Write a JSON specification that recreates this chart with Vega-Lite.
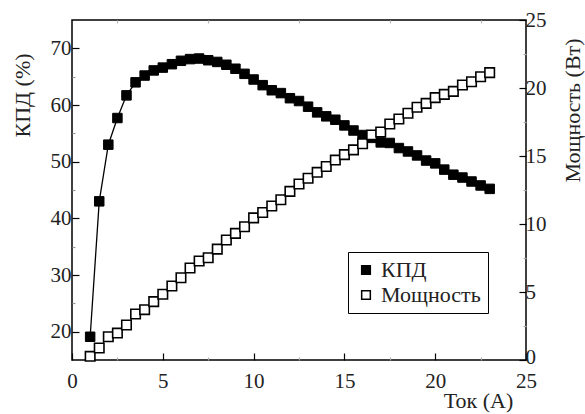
{
  "$schema": "https://vega.github.io/schema/vega-lite/v6.json",
  "width": 454,
  "height": 340,
  "autosize": {"type": "none"},
  "padding": {"left": 72, "top": 20, "right": 59, "bottom": 54},
  "background": "white",
  "config": {
    "font": "Liberation Serif",
    "view": {"stroke": "black", "strokeWidth": 1.5},
    "legend": {"labelFont": "Liberation Serif"},
    "axis": {
      "domain": false,
      "grid": false,
      "labelFont": "Liberation Serif",
      "titleFont": "Liberation Serif",
      "labelFontSize": 21,
      "titleFontSize": 22,
      "titleFontWeight": "normal",
      "labelColor": "#222",
      "titleColor": "#222",
      "tickColor": "black",
      "tickWidth": 1.2
    }
  },
  "data": {
    "values": [
      {"I": 1, "s": "КПД", "v": 19.1}, {"I": 1.5, "s": "КПД", "v": 43.0}, {"I": 2, "s": "КПД", "v": 53.0},
      {"I": 2.5, "s": "КПД", "v": 57.7}, {"I": 3, "s": "КПД", "v": 61.7}, {"I": 3.5, "s": "КПД", "v": 64.0},
      {"I": 4, "s": "КПД", "v": 65.2}, {"I": 4.5, "s": "КПД", "v": 66.1}, {"I": 5, "s": "КПД", "v": 66.6},
      {"I": 5.5, "s": "КПД", "v": 67.2}, {"I": 6, "s": "КПД", "v": 67.8}, {"I": 6.5, "s": "КПД", "v": 68.1},
      {"I": 7, "s": "КПД", "v": 68.2}, {"I": 7.5, "s": "КПД", "v": 67.9}, {"I": 8, "s": "КПД", "v": 67.6},
      {"I": 8.5, "s": "КПД", "v": 67.1}, {"I": 9, "s": "КПД", "v": 66.4}, {"I": 9.5, "s": "КПД", "v": 65.5},
      {"I": 10, "s": "КПД", "v": 64.5}, {"I": 10.5, "s": "КПД", "v": 63.5}, {"I": 11, "s": "КПД", "v": 62.6},
      {"I": 11.5, "s": "КПД", "v": 62.1}, {"I": 12, "s": "КПД", "v": 61.2}, {"I": 12.5, "s": "КПД", "v": 60.7},
      {"I": 13, "s": "КПД", "v": 59.7}, {"I": 13.5, "s": "КПД", "v": 58.7}, {"I": 14, "s": "КПД", "v": 58.0},
      {"I": 14.5, "s": "КПД", "v": 57.4}, {"I": 15, "s": "КПД", "v": 56.4}, {"I": 15.5, "s": "КПД", "v": 55.5},
      {"I": 16, "s": "КПД", "v": 54.7}, {"I": 16.5, "s": "КПД", "v": 54.2}, {"I": 17, "s": "КПД", "v": 53.4},
      {"I": 17.5, "s": "КПД", "v": 53.3}, {"I": 18, "s": "КПД", "v": 52.4}, {"I": 18.5, "s": "КПД", "v": 51.8},
      {"I": 19, "s": "КПД", "v": 51.1}, {"I": 19.5, "s": "КПД", "v": 50.2}, {"I": 20, "s": "КПД", "v": 49.7},
      {"I": 20.5, "s": "КПД", "v": 48.6}, {"I": 21, "s": "КПД", "v": 47.7}, {"I": 21.5, "s": "КПД", "v": 47.2},
      {"I": 22, "s": "КПД", "v": 46.5}, {"I": 22.5, "s": "КПД", "v": 45.8}, {"I": 23, "s": "КПД", "v": 45.2},
      {"I": 1, "s": "Мощность", "v": 0.27}, {"I": 1.5, "s": "Мощность", "v": 0.88}, {"I": 2, "s": "Мощность", "v": 1.71},
      {"I": 2.5, "s": "Мощность", "v": 1.98}, {"I": 3, "s": "Мощность", "v": 2.57}, {"I": 3.5, "s": "Мощность", "v": 3.38},
      {"I": 4, "s": "Мощность", "v": 3.7}, {"I": 4.5, "s": "Мощность", "v": 4.29}, {"I": 5, "s": "Мощность", "v": 4.83},
      {"I": 5.5, "s": "Мощность", "v": 5.44}, {"I": 6, "s": "Мощность", "v": 6.05}, {"I": 6.5, "s": "Мощность", "v": 6.76},
      {"I": 7, "s": "Мощность", "v": 7.28}, {"I": 7.5, "s": "Мощность", "v": 7.52}, {"I": 8, "s": "Мощность", "v": 8.15},
      {"I": 8.5, "s": "Мощность", "v": 8.82}, {"I": 9, "s": "Мощность", "v": 9.31}, {"I": 9.5, "s": "Мощность", "v": 9.8},
      {"I": 10, "s": "Мощность", "v": 10.45}, {"I": 10.5, "s": "Мощность", "v": 10.85}, {"I": 11, "s": "Мощность", "v": 11.32},
      {"I": 11.5, "s": "Мощность", "v": 11.78}, {"I": 12, "s": "Мощность", "v": 12.4}, {"I": 12.5, "s": "Мощность", "v": 12.94},
      {"I": 13, "s": "Мощность", "v": 13.36}, {"I": 13.5, "s": "Мощность", "v": 13.8}, {"I": 14, "s": "Мощность", "v": 14.23},
      {"I": 14.5, "s": "Мощность", "v": 14.7}, {"I": 15, "s": "Мощность", "v": 15.1}, {"I": 15.5, "s": "Мощность", "v": 15.45},
      {"I": 16, "s": "Мощность", "v": 15.9}, {"I": 16.5, "s": "Мощность", "v": 16.55}, {"I": 17, "s": "Мощность", "v": 16.76},
      {"I": 17.5, "s": "Мощность", "v": 17.35}, {"I": 18, "s": "Мощность", "v": 17.72}, {"I": 18.5, "s": "Мощность", "v": 18.14},
      {"I": 19, "s": "Мощность", "v": 18.58}, {"I": 19.5, "s": "Мощность", "v": 18.87}, {"I": 20, "s": "Мощность", "v": 19.29},
      {"I": 20.5, "s": "Мощность", "v": 19.53}, {"I": 21, "s": "Мощность", "v": 19.75}, {"I": 21.5, "s": "Мощность", "v": 20.22},
      {"I": 22, "s": "Мощность", "v": 20.46}, {"I": 22.5, "s": "Мощность", "v": 20.83}, {"I": 23, "s": "Мощность", "v": 21.13}
    ]
  },
  "layer": [
    {
      "transform": [{"filter": "datum.s === 'КПД'"}],
      "encoding": {
        "x": {
          "field": "I", "type": "quantitative",
          "scale": {"domain": [0, 25], "nice": false},
          "axis": {
            "orient": "bottom",
            "title": "Ток (А)",
            "values": [0, 2.5, 5, 7.5, 10, 12.5, 15, 17.5, 20, 22.5, 25],
            "labelExpr": "datum.value % 5 === 0 ? datum.label : ''",
            "tickSize": {"condition": {"test": "datum.value % 5 === 0", "value": -7}, "value": -3},
            "tickColor": {"condition": {"test": "datum.value % 5 === 0", "value": "black"}, "value": "#aaa"},
            "labelPadding": 17,
            "labelFlush": false,
            "titleX": 406, "titleY": 40,
            "titleAlign": "center", "titleBaseline": "middle"
          }
        },
        "y": {
          "field": "v", "type": "quantitative",
          "scale": {"domain": [15, 75], "nice": false, "zero": false},
          "axis": {
            "orient": "left",
            "title": "КПД (%)",
            "values": [20, 25, 30, 35, 40, 45, 50, 55, 60, 65, 70],
            "labelExpr": "datum.value % 10 === 0 ? datum.label : ''",
            "tickSize": {"condition": {"test": "datum.value % 10 === 0", "value": -7}, "value": -3},
            "tickColor": {"condition": {"test": "datum.value % 10 === 0", "value": "black"}, "value": "#999"},
            "labelPadding": 8,
            "titleX": -50, "titleY": 75,
            "titleAngle": -90, "titleAlign": "center", "titleBaseline": "middle"
          }
        }
      },
      "layer": [
        {"mark": {"type": "line", "color": "black", "strokeWidth": 1.3}},
        {
          "mark": {"type": "point", "shape": "square", "size": 90, "filled": true, "stroke": "black", "strokeWidth": 1, "opacity": 1},
          "encoding": {
            "fill": {
              "field": "s", "type": "nominal",
              "scale": {"domain": ["КПД", "Мощность"], "range": ["black", "white"]},
              "legend": {
                "orient": "none", "legendX": 276, "legendY": 232,
                "title": null,
                "strokeColor": "black", "fillColor": "white",
                "padding": 7, "labelFontSize": 22, "labelFont": "Liberation Serif", "labelColor": "#222",
                "symbolType": "square", "symbolSize": 75, "symbolStrokeColor": "black", "symbolStrokeWidth": 1.5,
                "rowPadding": 3, "labelOffset": 4, "cornerRadius": 0
              }
            }
          }
        }
      ]
    },
    {
      "transform": [{"filter": "datum.s === 'Мощность'"}],
      "encoding": {
        "x": {
          "field": "I", "type": "quantitative",
          "scale": {"domain": [0, 25], "nice": false},
          "axis": {
            "orient": "top", "title": null, "labels": false,
            "values": [2.5, 7.5, 12.5, 17.5, 22.5],
            "tickSize": -3, "tickColor": "#bbb"
          }
        },
        "y": {
          "field": "v", "type": "quantitative",
          "scale": {"domain": [0, 25], "nice": false},
          "axis": {
            "orient": "right",
            "title": "Мощность (Вт)",
            "values": [0, 2.5, 5, 7.5, 10, 12.5, 15, 17.5, 20, 22.5, 25],
            "labelExpr": "datum.value % 5 === 0 ? datum.label : ''",
            "labelOffset": {"condition": {"test": "datum.value === 0", "value": -3}, "value": 0},
            "tickSize": {"condition": {"test": "datum.value % 5 === 0", "value": -7}, "value": -3},
            "tickColor": {"condition": {"test": "datum.value % 5 === 0", "value": "black"}, "value": "#aaa"},
            "labelPadding": 6,
            "labelFlush": false,
            "titleX": 46, "titleY": 90,
            "titleAngle": -90, "titleAlign": "center", "titleBaseline": "middle"
          }
        }
      },
      "layer": [
        {"mark": {"type": "line", "color": "black", "strokeWidth": 1}},
        {
          "mark": {"type": "point", "shape": "square", "size": 90, "filled": true, "stroke": "black", "strokeWidth": 1.6, "opacity": 1},
          "encoding": {
            "fill": {"field": "s", "type": "nominal", "scale": {"domain": ["КПД", "Мощность"], "range": ["black", "white"]}}
          }
        }
      ]
    }
  ],
  "resolve": {"scale": {"y": "independent"}, "axis": {"x": "independent"}}
}
